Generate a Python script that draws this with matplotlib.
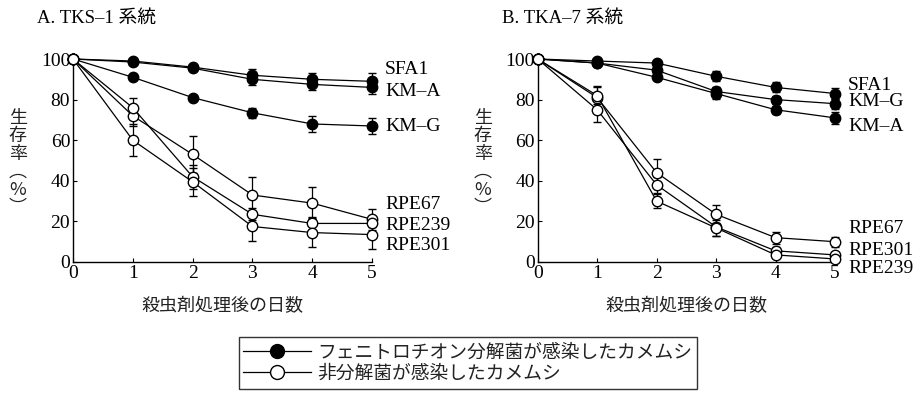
import numpy as np
from matplotlib import pyplot as plt
from matplotlib.lines import Line2D

plt.rcParams['font.family'] = ['Liberation Serif', 'Noto Sans CJK JP']

days = [0, 1, 2, 3, 4, 5]

# A. TKS-1
a_names = ['SFA1', 'KM–A', 'KM–G', 'RPE67', 'RPE239', 'RPE301']
a_filled = [True, True, True, False, False, False]
a_vals = [
    [100, 99, 96, 92, 90, 89],
    [100, 98.5, 95.5, 90, 87.5, 86],
    [100, 91, 81, 73.5, 68, 67],
    [100, 72, 53, 33, 29, 21],
    [100, 76, 42, 23.5, 19, 19],
    [100, 60, 39.5, 17.5, 14.5, 13.5],
]
a_errs = [
    [0, 1, 1, 3, 3, 4],
    [0, 1, 1, 3, 3, 3],
    [0, 1, 1, 2.5, 4, 4],
    [0, 5, 9, 9, 8, 5],
    [0, 5, 6, 3, 3, 2],
    [0, 8, 7, 7, 7, 7],
]
a_label_y = [95, 84, 66.6, 28.5, 18, 8.2]

# B. TKA-7
b_names = ['SFA1', 'KM–G', 'KM–A', 'RPE67', 'RPE301', 'RPE239']
b_filled = [True, True, True, False, False, False]
b_vals = [
    [100, 99, 98, 91.5, 86, 83],
    [100, 98, 94.5, 84, 80, 78],
    [100, 98, 91, 83, 75, 71],
    [100, 81, 44, 23.5, 12, 10],
    [100, 75, 38, 17.3, 5.5, 3.5],
    [100, 82, 30, 16.8, 3.5, 1.5],
]
b_errs = [
    [0, 1, 1, 2.5, 2.5, 2.5],
    [0, 1, 1, 2, 2, 2.5],
    [0, 1, 1.5, 2.5, 2, 3],
    [0, 5.5, 6.5, 4.5, 3, 2.5],
    [0, 6, 4, 4.5, 2, 1.5],
    [0, 4, 3.5, 4, 1.5, 1],
]
b_label_y = [86.7, 79, 66.6, 16.4, 5.8, -3.3]

fig = plt.figure(figsize=(9.19, 3.98), dpi=100)
ax_a = fig.add_axes([73 / 919, 136 / 398, 299 / 919, 203 / 398])
ax_b = fig.add_axes([537.7 / 919, 136 / 398, 297.3 / 919, 203 / 398])

jp = 'Noto Sans CJK JP'


def draw_panel(ax, title, names, filled, vals, errs, label_y):
    for name, f, v, e, ly in zip(names, filled, vals, errs, label_y):
        ax.errorbar(days, v, yerr=e, color='black', lw=0.9, elinewidth=0.9,
                    capsize=3, capthick=0.9, marker='o', ms=7.5,
                    mfc='black' if f else 'white', mec='black', mew=1.0,
                    clip_on=False, zorder=3 if f else 4)
        ax.text(5.22, ly, name, fontsize=14, ha='left', va='center')
    ax.set_xlim(0, 5)
    ax.set_ylim(0, 100)
    ax.set_xticks(days)
    ax.set_yticks([0, 20, 40, 60, 80, 100])
    ax.tick_params(direction='in', length=3, width=0.8, labelsize=14, pad=2)
    for s in ['top', 'right']:
        ax.spines[s].set_visible(False)
    for s in ['left', 'bottom']:
        ax.spines[s].set_linewidth(1.0)
    ax.set_xlabel('殺虫剤処理後の日数', family=jp, fontsize=13, labelpad=11,
                  color='#222222')
    ax.text(-0.185, 0.49, '生\n存\n率\n︵\n%\n︶', transform=ax.transAxes,
            family=[jp], fontsize=13, ha='center', va='center',
            linespacing=1.0, color='#222222')
    ax.text(-0.12, 1.2, title, transform=ax.transAxes, fontsize=13.5,
            ha='left', va='center')


draw_panel(ax_a, 'A. TKS–1 系統', a_names, a_filled, a_vals, a_errs, a_label_y)
draw_panel(ax_b, 'B. TKA–7 系統', b_names, b_filled, b_vals, b_errs, b_label_y)

handles = [
    Line2D([], [], color='black', lw=0.9, marker='o', ms=10, mfc='black',
           mec='black'),
    Line2D([], [], color='black', lw=0.9, marker='o', ms=10, mfc='white',
           mec='black'),
]
leg = fig.legend(handles,
                 ['フェニトロチオン分解菌が感染したカメムシ',
                  '非分解菌が感染したカメムシ'],
                 loc='center', bbox_to_anchor=(468 / 919, 1 - 363 / 398),
                 frameon=True, fancybox=False, edgecolor='black',
                 prop={'family': jp, 'size': 13.5}, handlelength=3.6,
                 labelspacing=0.0, borderpad=0.25, handletextpad=0.35,
                 borderaxespad=0, markerfirst=True, alignment='left')
leg.get_frame().set_linewidth(1.0)
for t in leg.get_texts():
    t.set_color('#222222')

fig.savefig('out.png', dpi=100)
